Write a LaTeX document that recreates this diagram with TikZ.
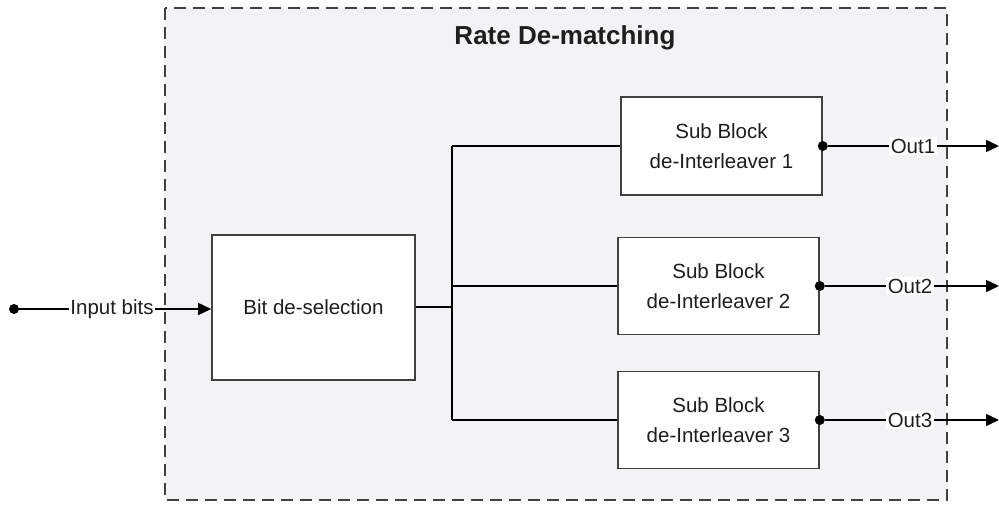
\documentclass[tikz,border=0pt]{standalone}
\usepackage{fontspec}
\setmainfont{Liberation Sans}
\usetikzlibrary{arrows.meta}
\definecolor{panel}{RGB}{242,243,245}
\definecolor{edge}{RGB}{64,64,64}
\definecolor{ink}{RGB}{30,30,30}
\begin{document}
\begin{tikzpicture}[x=1pt,y=-1pt,
  blk/.style={draw=edge,line width=1.6pt,fill=white,align=center,inner sep=0pt,
    text=ink,font=\fontsize{20.5}{30}\selectfont},
  wire/.style={line width=1.5pt,draw=black},
  lbl/.style={fill=white,inner sep=1.5pt,text=ink,font=\fontsize{20.5}{24}\selectfont},
  arr/.style={wire,-{Triangle[length=13pt,width=12pt]}},
  dot/.style={circle,fill=black,inner sep=0pt,minimum size=10pt}]
\useasboundingbox (0,0) rectangle (999,506);

% dashed enclosure
\draw[draw=edge,line width=2pt,dash pattern=on 12pt off 7pt,fill=panel]
  (165,8) rectangle (947,500);
\node[font=\bfseries\fontsize{26}{30}\selectfont,text=ink] (title) at (565,38) {Rate De-matching};

% processing blocks
\node[blk,minimum width=203pt,minimum height=145pt] (sel) at (313.5,307.5) {Bit de-selection};
\node[blk,minimum width=201pt,minimum height=98pt] (sb1) at (721.5,146) {Sub Block\\de-Interleaver 1};
\node[blk,minimum width=201pt,minimum height=97pt] (sb2) at (718.5,286) {Sub Block\\de-Interleaver 2};
\node[blk,minimum width=201pt,minimum height=97pt] (sb3) at (718.5,420) {Sub Block\\de-Interleaver 3};

% input
\node[dot] (in) at (14,309) {};
\node[lbl] (inl) at (112,309) {Input bits};
\draw[wire] (in) -- (inl);
\draw[arr] (inl) -- (sel.west |- inl);

% fan-out to the sub blocks
\coordinate (tr) at (452,307);
\draw[wire] (sel.east |- tr) -- (tr);
\draw[wire] (tr |- sb1.west) -- (tr |- sb3.west);
\draw[wire] (tr |- sb1.west) -- (sb1.west);
\draw[wire] (tr |- sb2.west) -- (sb2.west);
\draw[wire] (tr |- sb3.west) -- (sb3.west);

% outputs
\foreach \i/\x in {1/913,2/910,3/910}{
  \node[dot] (d\i) at (sb\i.east) {};
  \node[lbl] (o\i) at (\x,0 |- sb\i.east) {Out\i};
  \coordinate (e\i) at (999,0 |- sb\i.east);
  \draw[wire] (d\i) -- (o\i);
  \draw[arr] (o\i) -- (e\i);
}
\end{tikzpicture}
\end{document}
